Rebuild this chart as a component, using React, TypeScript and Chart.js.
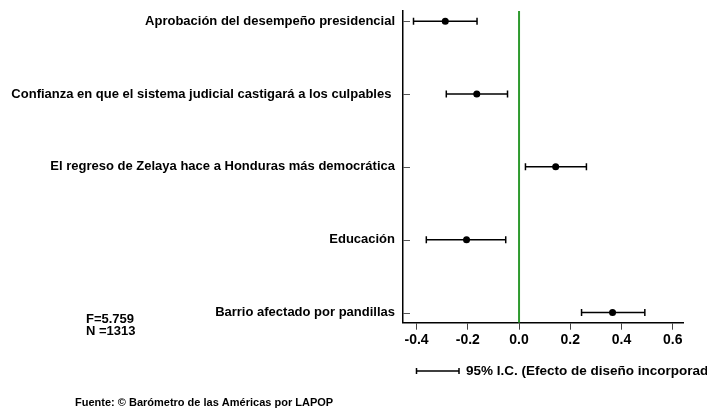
import React, { useEffect, useRef } from "react";
import { Chart, registerables } from "chart.js";

Chart.register(...registerables);

const categories = [
  "Aprobación del desempeño presidencial",
  "Confianza en que el sistema judicial castigará a los culpables ",
  "El regreso de Zelaya hace a Honduras más democrática",
  "Educación",
  "Barrio afectado por pandillas",
];
const estimates = [-0.288, -0.165, 0.143, -0.205, 0.365];
const lowerBounds = [-0.412, -0.284, 0.025, -0.362, 0.244];
const upperBounds = [-0.164, -0.045, 0.263, -0.052, 0.491];
const xTicks = [-0.4, -0.2, 0.0, 0.2, 0.4, 0.6];
const referenceValue = 0;
const statsLines = ["F=5.759", "N =1313"];
const sourceNote = "Fuente: © Barómetro de las Américas por LAPOP";
const legendLabel = "95% I.C. (Efecto de diseño incorporado)";

const FONT = '"Liberation Sans", Arial, sans-serif';
const Y_MIN = 0.86;
const Y_MAX = 5.14;

export default function App() {
  const canvasRef = useRef<HTMLCanvasElement | null>(null);

  useEffect(() => {
    const canvas = canvasRef.current;
    if (!canvas) return;

    const overlay = {
      id: "overlay",
      afterDraw(chart: any) {
        const ctx = chart.ctx;
        const ys = chart.scales.y;
        const area = chart.chartArea;
        ctx.save();
        // inward y tick marks
        ctx.strokeStyle = "#555";
        ctx.lineWidth = 1;
        ys.ticks.forEach((t: any) => {
          const py = Math.round(ys.getPixelForValue(t.value)) + 0.5;
          ctx.beginPath();
          ctx.moveTo(area.left, py);
          ctx.lineTo(area.left + 7, py);
          ctx.stroke();
        });
        ctx.fillStyle = "#000";
        ctx.textBaseline = "middle";
        ctx.textAlign = "left";
        ctx.font = `bold 13px ${FONT}`;
        ctx.fillText(statsLines[0], 86, 319);
        ctx.fillText(statsLines[1], 86, 331);
        // legend
        ctx.strokeStyle = "#000";
        ctx.lineWidth = 1.5;
        ctx.beginPath();
        ctx.moveTo(416, 371);
        ctx.lineTo(459, 371);
        ctx.moveTo(416.5, 368);
        ctx.lineTo(416.5, 374);
        ctx.moveTo(459, 368);
        ctx.lineTo(459, 374);
        ctx.stroke();
        ctx.font = `bold 13.5px ${FONT}`;
        ctx.fillText(legendLabel, 466, 371);
        ctx.font = `bold 11px ${FONT}`;
        ctx.fillText(sourceNote, 75, 403);
        ctx.restore();
      },
    };

    const errorBarSets = categories.map((_, i) => ({
      label: "ci" + i,
      data: [
        { x: lowerBounds[i], y: i + 1 },
        { x: upperBounds[i], y: i + 1 },
      ],
      showLine: true,
      borderColor: "#000",
      borderWidth: 1.5,
      pointStyle: "line",
      rotation: 90,
      pointRadius: 3.5,
      pointBorderWidth: 1.5,
      pointBorderColor: "#000",
      pointBackgroundColor: "#000",
    }));

    const chart = new Chart(canvas, {
      type: "scatter",
      data: {
        datasets: [
          {
            label: "est",
            data: estimates.map((v, i) => ({ x: v, y: i + 1 })),
            pointRadius: 3.5,
            pointBackgroundColor: "#000",
            pointBorderColor: "#000",
            pointBorderWidth: 0,
          },
          ...errorBarSets,
          {
            label: "ref",
            data: [
              { x: referenceValue, y: Y_MIN },
              { x: referenceValue, y: Y_MAX },
            ],
            showLine: true,
            borderColor: "#2e9a2e",
            borderWidth: 2,
            pointRadius: 0,
          },
        ] as any,
      },
      options: {
        responsive: false,
        animation: false,
        devicePixelRatio: 1,
        layout: { padding: { top: 11, right: 24, bottom: 0, left: 0 } },
        plugins: {
          legend: { display: false },
          tooltip: { enabled: false },
          title: { display: false },
        },
        scales: {
          x: {
            type: "linear",
            min: -0.453,
            max: 0.64,
            afterBuildTicks: (s: any) => {
              s.ticks = xTicks.map((v) => ({ value: v }));
            },
            afterFit: (s: any) => {
              s.height = 87.3;
              s.paddingLeft = 0;
              s.paddingRight = 0;
            },
            ticks: {
              callback: (v: any) => Number(v).toFixed(1),
              font: { family: FONT, size: 14, weight: "bold" },
              color: "#000",
              padding: 2,
              maxRotation: 0,
              autoSkip: false,
            },
            grid: {
              display: true,
              drawOnChartArea: false,
              drawTicks: true,
              tickLength: 7,
              color: "#444",
              lineWidth: 1,
            },
            border: { display: true, color: "#000", width: 1.5 },
          },
          y: {
            type: "linear",
            reverse: true,
            min: Y_MIN,
            max: Y_MAX,
            afterBuildTicks: (s: any) => {
              s.ticks = categories.map((_, i) => ({ value: i + 1 }));
            },
            afterFit: (s: any) => {
              s.width = 403;
              s.paddingTop = 0;
              s.paddingBottom = 0;
            },
            ticks: {
              callback: (v: any) => categories[Math.round(Number(v)) - 1] ?? "",
              font: { family: FONT, size: 13, weight: "bold" },
              color: "#000",
              padding: 8,
              autoSkip: false,
            },
            grid: { display: false, drawTicks: false },
            border: { display: true, color: "#000", width: 1.5 },
          },
        },
      } as any,
      plugins: [overlay],
    });

    return () => chart.destroy();
  }, []);

  return (
    <div style={{ position: "fixed", left: 0, top: 0, width: 707, height: 410, background: "#fff" }}>
      <canvas ref={canvasRef} width={707} height={410} style={{ width: 707, height: 410, display: "block" }} />
    </div>
  );
}
